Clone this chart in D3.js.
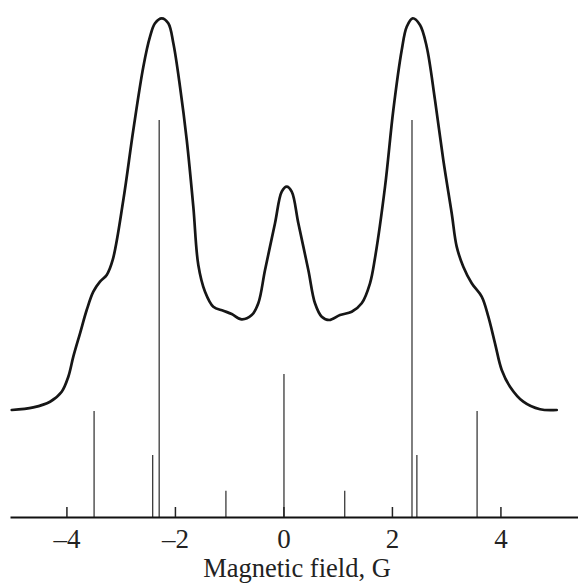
<!DOCTYPE html>
<html>
<head>
<meta charset="utf-8">
<script src="https://cdn.jsdelivr.net/npm/d3@7"></script>
<style>
  html, body { margin: 0; padding: 0; background: #fff; }
  svg { display: block; }
  text { font-family: "Liberation Serif", "Times New Roman", serif; fill: #222; }
</style>
</head>
<body>
<svg id="chart" width="578" height="583"></svg>
<script>
// ---- Data ----
// Simulated spectrum envelope: field (G) and intensity (arb.)
const curveField = [
  -5.008, -4.610, -4.302, -4.087, -3.965, -3.873, -3.749, -3.626, -3.504, -3.381,
  -3.257, -3.147, -2.951, -2.767, -2.582, -2.459, -2.367, -2.243, -2.122, -2.029,
  -1.906, -1.782, -1.661, -1.569, -1.445, -1.292, -1.108, -0.953, -0.769, -0.584,
  -0.463, -0.339, -0.155, -0.031, 0.061, 0.153, 0.275, 0.459, 0.582, 0.706,
  0.846, 1.043, 1.259, 1.443, 1.596, 1.688, 1.873, 2.026, 2.181, 2.273,
  2.383, 2.518, 2.641, 2.794, 2.947, 3.102, 3.194, 3.316, 3.471, 3.655,
  3.777, 3.900, 4.024, 4.177, 4.422, 4.730, 5.038
];
const curveIntensity = [
  26.95, 27.63, 29.04, 31.56, 35.34, 40.38, 46.27, 52.14, 56.75, 59.27,
  60.96, 64.74, 79.85, 97.48, 113.43, 120.98, 124.36, 125.62, 124.36, 119.32,
  108.39, 94.96, 78.16, 63.48, 56.75, 52.97, 51.96, 51.13, 49.80, 50.88,
  53.83, 62.22, 73.98, 81.94, 83.20, 81.94, 73.98, 62.22, 53.83, 50.45,
  49.62, 50.88, 51.71, 53.83, 58.87, 65.24, 83.20, 102.52, 117.63, 123.50,
  125.62, 123.93, 118.46, 105.04, 89.92, 76.50, 68.09, 63.05, 58.87, 55.49,
  50.45, 43.75, 37.03, 32.82, 29.04, 27.13, 26.95
];

// Stick spectrum: line positions (G) and relative intensities
const stickField = [-3.49, -2.41, -2.29, -1.06, 0.01, 1.13, 2.37, 2.46, 3.57];
const stickIntensity = [26.7, 15.6, 100, 6.6, 36.0, 6.6, 100, 15.6, 26.7];

// Axis
const tickValues = [-4, -2, 0, 2, 4];
const tickLabels = ["–4", "–2", "0", "2", "4"];
const xDomain = [-5.04, 5.43];
const xLabel = "Magnetic field, G";

// ---- Drawing ----
const svg = d3.select("#chart");
const baseY = 517;

const x = d3.scaleLinear().domain(xDomain).range([10, 578]);
const y = d3.scaleLinear().domain([0, 100]).range([baseY, 120]);

// sticks
svg.append("g")
  .selectAll("line")
  .data(stickField.map((f, i) => ({ f, v: stickIntensity[i] })))
  .join("line")
  .attr("x1", d => x(d.f)).attr("x2", d => x(d.f))
  .attr("y1", y(0)).attr("y2", d => y(d.v))
  .attr("stroke", "#3a3a3a")
  .attr("stroke-width", 1.3);

// envelope curve
const pts = curveField.map((f, i) => [f, curveIntensity[i]]);
svg.append("path")
  .datum(pts)
  .attr("fill", "none")
  .attr("stroke", "#161616")
  .attr("stroke-width", 2.7)
  .attr("stroke-linejoin", "round")
  .attr("stroke-linecap", "round")
  .attr("d", d3.line()
    .x(d => x(d[0]))
    .y(d => y(d[1]))
    .curve(d3.curveCatmullRom.alpha(0.5)));

// x axis (ticks pointing up)
const axis = d3.axisBottom(x)
  .tickValues(tickValues)
  .tickFormat((d, i) => tickLabels[i])
  .tickSize(-10)
  .tickSizeOuter(0);

const gAxis = svg.append("g")
  .attr("transform", `translate(0,${baseY})`)
  .attr("font-family", "Liberation Serif, Times New Roman, serif")
  .call(axis);

gAxis.select(".domain")
  .attr("stroke", "#111")
  .attr("stroke-width", 2.2);
gAxis.selectAll(".tick line")
  .attr("stroke", "#222")
  .attr("stroke-width", 1.5);
gAxis.selectAll(".tick text")
  .attr("y", 31)
  .attr("dy", 0)
  .attr("font-size", 27)
  .attr("font-family", "Liberation Serif, Times New Roman, serif")
  .attr("fill", "#222");

// axis title
svg.append("text")
  .attr("x", 297)
  .attr("y", 577)
  .attr("text-anchor", "middle")
  .attr("font-size", 26.5)
  .text(xLabel);
</script>
</body>
</html>
